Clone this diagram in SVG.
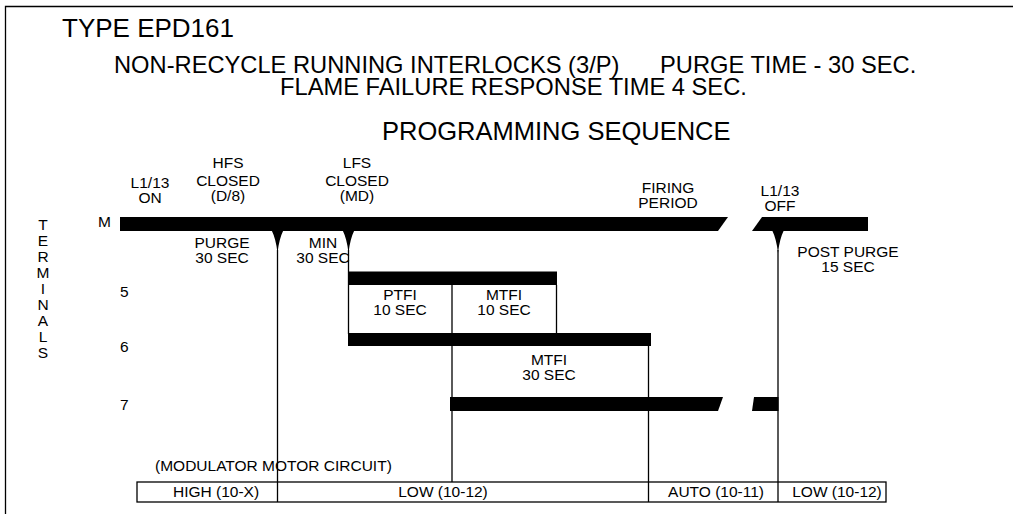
<svg xmlns="http://www.w3.org/2000/svg" width="1013" height="514" viewBox="0 0 1013 514">
<style>
text{font-family:"Liberation Sans",Arial,Helvetica,sans-serif;fill:#000}
.s{font-size:15.5px}
.c{text-anchor:middle}
.ln{stroke:#000;stroke-width:1.3;fill:none}
.bar{fill:#000}
</style>
<rect width="1013" height="514" fill="#fff"/>
<g id="frame"><path class="ln" d="M5.5,514 V6.5 H1013" stroke-width="1.6"/></g>
<g id="titles">
<text x="62" y="37" font-size="26">TYPE EPD161</text>
<text y="73" font-size="23.7"><tspan x="114">NON-RECYCLE RUNNING INTERLOCKS (3/P)</tspan><tspan x="660">PURGE TIME - 30 SEC.</tspan></text>
<text x="280" y="94.5" font-size="23.7">FLAME FAILURE RESPONSE TIME 4 SEC.</text>
<text x="382" y="140" font-size="25.5">PROGRAMMING SEQUENCE</text>
</g>
<g id="terminals-label">
<text class="s c" x="43" y="230">T</text>
<text class="s c" x="43" y="246">E</text>
<text class="s c" x="43" y="262">R</text>
<text class="s c" x="43" y="278">M</text>
<text class="s c" x="43" y="294">I</text>
<text class="s c" x="43" y="310">N</text>
<text class="s c" x="43" y="326">A</text>
<text class="s c" x="43" y="342">L</text>
<text class="s c" x="43" y="358">S</text>
</g>
<g id="row-labels">
<text class="s" x="98" y="227">M</text>
<text class="s" x="120" y="297">5</text>
<text class="s" x="120" y="352">6</text>
<text class="s" x="120" y="410">7</text>
</g>
<g id="connectors">
<line class="ln" x1="277.5" y1="250" x2="277.5" y2="502"/>
<line class="ln" x1="348.5" y1="250" x2="348.5" y2="334"/>
<line class="ln" x1="452" y1="285" x2="452" y2="482"/>
<line class="ln" x1="556.5" y1="285" x2="556.5" y2="334"/>
<line class="ln" x1="648.5" y1="346" x2="648.5" y2="502"/>
<line class="ln" x1="778" y1="250" x2="778" y2="502"/>
</g>
<g id="bar-M">
<polygon class="bar" points="120,217 728,217 718,231 120,231"/>
<polygon class="bar" points="762,217 868,217 868,231 752,231"/>
<path class="bar" d="M271.5,230 H283.5 Q279,239 277.5,253 Q276,239 271.5,230 Z"/>
<path class="bar" d="M342.5,230 H354.5 Q350,239 348.5,253 Q347,239 342.5,230 Z"/>
<path class="bar" d="M772,230 H784 Q779.5,239 778,253 Q776.5,239 772,230 Z"/>
</g>
<g id="bar-5"><rect class="bar" x="348" y="271.5" width="209" height="13.5"/></g>
<g id="bar-6"><rect class="bar" x="348" y="333" width="303" height="13"/></g>
<g id="bar-7">
<polygon class="bar" points="450,397 723,397 718,411 450,411"/>
<polygon class="bar" points="754,397 778.5,397 778.5,411 752,411"/>
</g>
<g id="event-labels">
<text class="s c" x="150" y="188">L1/13</text>
<text class="s c" x="150" y="203">ON</text>
<text class="s c" x="228" y="168">HFS</text>
<text class="s c" x="228" y="186">CLOSED</text>
<text class="s c" x="228" y="201">(D/8)</text>
<text class="s c" x="357" y="168">LFS</text>
<text class="s c" x="357" y="186">CLOSED</text>
<text class="s c" x="357" y="201">(MD)</text>
<text class="s c" x="668" y="193">FIRING</text>
<text class="s c" x="668" y="208">PERIOD</text>
<text class="s c" x="780" y="196">L1/13</text>
<text class="s c" x="780" y="211">OFF</text>
</g>
<g id="interval-labels">
<text class="s c" x="222" y="248">PURGE</text>
<text class="s c" x="222" y="263">30 SEC</text>
<text class="s c" x="323" y="248">MIN</text>
<text class="s c" x="323" y="263">30 SEC</text>
<text class="s c" x="848" y="257">POST PURGE</text>
<text class="s c" x="848" y="272">15 SEC</text>
<text class="s c" x="400" y="300">PTFI</text>
<text class="s c" x="400" y="315">10 SEC</text>
<text class="s c" x="504" y="300">MTFI</text>
<text class="s c" x="504" y="315">10 SEC</text>
<text class="s c" x="549" y="365">MTFI</text>
<text class="s c" x="549" y="380">30 SEC</text>
</g>
<g id="modulator-table">
<text class="s" x="155" y="471">(MODULATOR MOTOR CIRCUIT)</text>
<rect class="ln" x="137" y="482" width="749" height="20"/>
<text class="s c" x="216" y="497">HIGH (10-X)</text>
<text class="s c" x="443" y="497">LOW (10-12)</text>
<text class="s c" x="716" y="497">AUTO (10-11)</text>
<text class="s c" x="837" y="497">LOW (10-12)</text>
</g>
</svg>
